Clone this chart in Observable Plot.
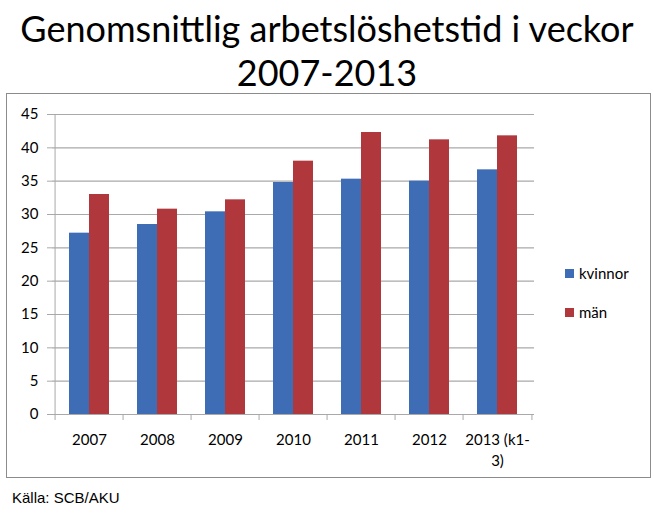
<!DOCTYPE html>
<html>
<head>
<meta charset="utf-8">
<script src="https://cdn.jsdelivr.net/npm/d3@7"></script>
<script src="https://cdn.jsdelivr.net/npm/@observablehq/plot@0.6"></script>
<style>
  html, body { margin: 0; padding: 0; background: #fff; }
  body { width: 654px; height: 513px; position: relative; overflow: hidden; font-family: Lato, "Open Sans", sans-serif; }
  #title { position: absolute; left: 0; width: 654px; top: 6px; text-align: center; font-family: Lato, sans-serif; font-size: 36px; line-height: 44px; color: #000; }
  #box { position: absolute; left: 6px; top: 93px; width: 645px; height: 385px; border: 1px solid #8c8c8c; box-sizing: border-box; }
  #chart { position: absolute; left: 0; top: 0; }
  .legend { position: absolute; left: 558px; font-size: 15px; font-family: Lato, sans-serif; display: flex; align-items: center; }
  .legend span.sw { display: inline-block; width: 9px; height: 9px; margin-right: 5px; }
  #caption { position: absolute; left: 12px; top: 489px; font-family: "Liberation Sans", Arial, sans-serif; font-size: 15px; }
</style>
</head>
<body>
<div id="title">Genomsnittlig arbetslöshetstid i veckor<br>2007-2013</div>
<div id="box">
  <div id="chart"></div>
  <div class="legend" style="top:170px"><span class="sw" style="background:#3f6db5"></span>kvinnor</div>
  <div class="legend" style="top:209px"><span class="sw" style="background:#b0383c"></span>män</div>
</div>
<div id="caption">Källa: SCB/AKU</div>
<script>
const years = ["2007", "2008", "2009", "2010", "2011", "2012", "2013 (k1-\n3)"];
const kvinnor = [27.2, 28.5, 30.4, 34.8, 35.3, 35.0, 36.7];
const man = [33.0, 30.8, 32.2, 38.0, 42.3, 41.2, 41.8];
const yTicks = [0, 5, 10, 15, 20, 25, 30, 35, 40, 45];
const seriesNames = ["kvinnor", "män"];

const data = years.flatMap((y, i) => [
  {year: y, serie: seriesNames[0], value: kvinnor[i]},
  {year: y, serie: seriesNames[1], value: man[i]}
]);

const width = 643, height = 383;
const marginLeft = 45, marginRight = 116, marginTop = 20, marginBottom = 63;
const step = (width - marginLeft - marginRight) / years.length;
const barW = 20;
const pad = 1 - barW / step;

const chart = Plot.plot({
  width, height, marginLeft, marginRight, marginTop, marginBottom,
  style: {fontFamily: "Lato, sans-serif", fontSize: "14px", color: "#000", background: "transparent"},
  x: {domain: years, paddingInner: pad, paddingOuter: pad / 2, align: 0.5, label: null, axis: null},
  y: {domain: [0, 45], ticks: yTicks, label: null, axis: null},
  marks: [
    Plot.ruleY(yTicks.filter(d => d > 0), {y: d => d, stroke: "#a9a9a9", strokeWidth: 1.2}),
    Plot.barY(data.filter(d => d.serie === "kvinnor"), {x: "year", y: "value", fill: "#3f6db5", dx: -barW / 2}),
    Plot.barY(data.filter(d => d.serie === "män"), {x: "year", y: "value", fill: "#b0383c", dx: barW / 2}),
    Plot.axisY({ticks: yTicks, tickSize: 5, tickPadding: 9, stroke: "#a9a9a9", fontSize: 15, label: null}),
    Plot.ruleX([years[0]], {x: d => d, dx: -step / 2, stroke: "#a9a9a9"}),
    Plot.ruleY([0], {stroke: "#a9a9a9", strokeWidth: 1.2}),
    Plot.ruleX(years, {x: d => d, dx: -step / 2, y1: 0, y2: -0.9, stroke: "#a9a9a9"}),
    Plot.ruleX([years[years.length - 1]], {x: d => d, dx: step / 2, y1: 0, y2: -0.9, stroke: "#a9a9a9"}),
    Plot.axisX({tickSize: 0, tickPadding: 16, fontSize: 15, label: null, lineHeight: 1.4})
  ]
});
document.getElementById("chart").appendChild(chart);
</script>
</body>
</html>
